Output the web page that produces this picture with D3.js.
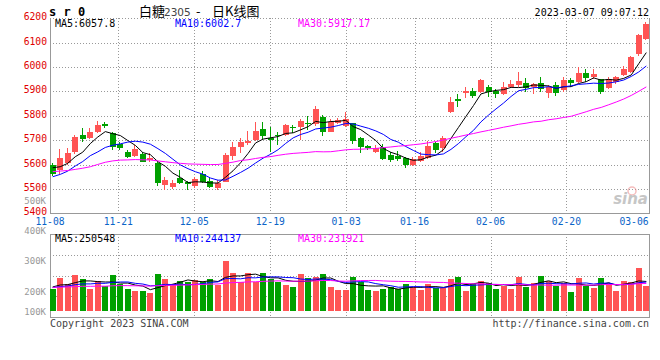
<!DOCTYPE html>
<html><head><meta charset="utf-8">
<script src="https://cdn.jsdelivr.net/npm/d3@7"></script>
<style>body{margin:0;background:#fff} svg{display:block}</style>
</head><body><svg id="c" width="660" height="360"></svg>
<script>
// ---------------- DATA ----------------
const dates = ["11-08","11-09","11-10","11-11","11-14","11-15","11-16","11-17","11-18",
"11-21","11-22","11-23","11-24","11-25","11-28","11-29","11-30","12-01","12-02",
"12-05","12-06","12-07","12-08","12-09","12-12","12-13","12-14","12-15","12-16",
"12-19","12-20","12-21","12-22","12-23","12-26","12-27","12-28","12-29","12-30",
"01-03","01-04","01-05","01-06","01-09","01-10","01-11","01-12","01-13",
"01-16","01-17","01-18","01-19","01-20","01-30","01-31","02-01","02-02","02-03",
"02-06","02-07","02-08","02-09","02-10","02-13","02-14","02-15","02-16","02-17",
"02-20","02-21","02-22","02-23","02-24","02-27","02-28","03-01","03-02","03-03",
"03-06","03-07"];
const open  = [5598,5578,5605,5650,5721,5710,5735,5766,5728,5683,5653,5636,5642,5619,5608,5516,5509,5546,5527,5513,
5561,5533,5503,5530,5635,5671,5687,5701,5746,5708,5721,5721,5755,5753,5770,5766,5796,5735,5772,5758,
5770,5710,5677,5653,5673,5639,5636,5626,5598,5615,5626,5687,5669,5817,5869,5892,5902,5899,5919,5902,
5889,5919,5926,5933,5917,5933,5895,5926,5906,5947,5940,5974,5960,5950,5913,5940,5967,5981,6054,6116];
const high  = [5608,5662,5668,5720,5752,5750,5779,5776,5735,5694,5660,5680,5650,5646,5614,5550,5537,5578,5532,5550,
5575,5550,5537,5646,5694,5708,5739,5776,5776,5755,5732,5766,5762,5786,5800,5841,5803,5786,5790,5814,
5772,5714,5681,5680,5683,5653,5656,5632,5632,5653,5697,5694,5717,5878,5888,5920,5913,5950,5926,5909,
5940,5947,5981,5957,5933,5958,5926,5937,5960,5954,5999,5991,5990,5952,5960,5963,6004,6045,6136,6185];
const low   = [5555,5560,5600,5645,5694,5705,5728,5749,5660,5660,5626,5632,5610,5612,5513,5496,5498,5520,5496,5505,
5523,5503,5496,5527,5619,5646,5680,5697,5704,5653,5680,5717,5728,5701,5742,5760,5717,5732,5766,5755,
5684,5646,5660,5646,5619,5609,5616,5587,5594,5612,5624,5646,5653,5810,5837,5872,5874,5895,5878,5872,
5885,5913,5919,5899,5888,5899,5874,5881,5899,5919,5936,5940,5950,5889,5909,5930,5963,5977,6045,6110];
const close = [5560,5626,5649,5714,5705,5735,5762,5760,5671,5667,5632,5663,5612,5628,5523,5537,5524,5526,5519,5541,
5530,5507,5523,5639,5673,5694,5698,5739,5718,5700,5719,5762,5752,5779,5766,5827,5735,5776,5783,5786,
5698,5673,5667,5669,5623,5619,5623,5598,5623,5636,5676,5660,5708,5855,5862,5902,5883,5947,5899,5890,
5917,5930,5943,5913,5930,5909,5917,5892,5947,5933,5974,5954,5970,5899,5950,5958,5991,6040,6131,6177];
const volume = [185900,281700,228200,304200,270400,185900,253500,211300,304200,225300,
185900,169000,169000,152100,312700,270400,228200,253500,247900,262000,
245100,270400,219700,425100,321100,245100,321100,245100,321100,270400,
242200,219700,202800,312700,278900,287300,312700,202800,177500,177500,
287300,242200,177500,169000,185900,202800,185900,228200,202800,177500,
228200,194400,194400,270400,287300,169000,228200,253500,236600,185900,
211300,185900,287300,202800,236600,295800,253500,208400,236600,160600,
278900,208400,194400,278900,236600,169000,253500,245100,366200,214100];
// sessions before 11-08 (only feed the moving averages)
const preClose = [5560,5575,5580,5560,5554,5480,5490,5503,5570,5609,5620,5640,5643,5650,5640,
5630,5610,5590,5570,5556,5530,5515,5505,5520,5495,5606,5579,5579,5611];
const preVolume = [205000,190000,215000,198000,186000,210000,222000,195000,183000,200000,
208000,192000,215000,188000,196000,205000,212000,190000,185000,203000,
198000,180000,192000,205000,188000,200000,214000,220000,198000];
const priceTicks = [6200,6100,6000,5900,5800,5700,5600,5500,5400];
const volTickLabels = [500000,400000,300000,200000,100000];
const axisDates = ["11-08","11-21","12-05","12-19","01-03","01-16","02-06","02-20","03-06"];
const maPeriods = [5,10,30];
const maLegend = ["6057.8","6002.7","5917.17"];
const volMaLegend = ["250548","244137","231921"];
const titleParts = ["白糖","2305"," - ","日K线图"];
const symbol = "s r 0";
const timestamp = "2023-03-07 09:07:12";

// ---------------- CHART ----------------
const svg = d3.select("#c");
const RED = "#ff5454", GREEN = "#00a000", GRID = "#999", BORDER = "#999";
const maColors = ["#000000","#0000ff","#ff00ff"];
const MONO = "'DejaVu Sans Mono', monospace";
const FS = "9.7px ";
const n = dates.length;

const xG = d3.scaleLinear().domain([0, n-1]).range([50, 650]);       // date grid / labels
const xC = d3.scaleLinear().domain([0, n-1]).range([52.7, 646.3]);   // candle centres
const yP = d3.scaleLinear().domain([5400, 6200]).range([213.3, 18.3]);
const yV = d3.scaleLinear().domain([0, 845000]).range([311, 211]);
const yVLab = d3.scaleLinear().domain([200000, 500000]).range([294, 203.3]);
const px = v => Math.round(v) + 0.5;

function movingAvg(arr, pre, p) {
  const all = pre.concat(arr);
  return arr.map((_, i) => d3.mean(all.slice(i + pre.length - p + 1, i + pre.length + 1)));
}

const gGrid = svg.append("g");
gGrid.selectAll(".hg").data(priceTicks.filter(t => t > 5400)).join("line")
  .attr("x1", 50).attr("x2", 650)
  .attr("y1", d => px(yP(d))).attr("y2", d => px(yP(d)))
  .attr("stroke", GRID).attr("stroke-dasharray", "1,2");
const volTop = 234, volBot = 317;
const volGrid = d3.range(1, 4).map(k => volTop + k * (volBot - volTop) / 4);
gGrid.selectAll(".vg").data(volGrid).join("line")
  .attr("x1", 50).attr("x2", 650)
  .attr("y1", d => px(d)).attr("y2", d => px(d))
  .attr("stroke", GRID).attr("stroke-dasharray", "1,2");
const gridIdx = axisDates.map(d => dates.indexOf(d)).filter(i => xG(i) < 640 && i > 0);
[[18, 213], [volTop, volBot]].forEach(([a, b]) => {
  gGrid.append("g").selectAll("line").data(gridIdx).join("line")
    .attr("x1", i => px(xG(i))).attr("x2", i => px(xG(i)))
    .attr("y1", a).attr("y2", b)
    .attr("stroke", GRID).attr("stroke-dasharray", "1,2");
});
const gB = svg.append("g").attr("stroke", BORDER).attr("fill", "none");
gB.append("line").attr("x1", 50.5).attr("x2", 50.5).attr("y1", 18).attr("y2", 214);
gB.append("line").attr("x1", 649.5).attr("x2", 649.5).attr("y1", 18).attr("y2", 214);
gB.append("line").attr("x1", 50).attr("x2", 650).attr("y1", px(yP(5400))).attr("y2", px(yP(5400)));
gB.append("rect").attr("x", 50.5).attr("y", volTop + 0.5).attr("width", 599).attr("height", volBot - volTop);

// price axis labels
svg.append("g").selectAll("text").data(priceTicks).join("text")
  .attr("x", 47).attr("y", d => yP(d) + 2)
  .attr("text-anchor", "end").attr("fill", "#e00000")
  .style("font", FS + MONO).text(d => d);
// volume axis labels (grey)
svg.append("g").selectAll("text").data(volTickLabels).join("text")
  .attr("x", 46).attr("y", d => Math.min(yVLab(d), 314.3) + 0.5)
  .attr("text-anchor", "end").attr("fill", "#999")
  .style("font", "9px " + MONO).text(d => (d / 1000) + "K");
// date labels
svg.append("g").selectAll("text").data(axisDates).join("text")
  .attr("x", d => Math.min(xG(dates.indexOf(d)), 649 - 15))
  .attr("y", 224.5).attr("text-anchor", "middle").attr("fill", "#0a64c8")
  .style("font", FS + MONO).text(d => d);

// candles
const gC = svg.append("g").attr("shape-rendering", "crispEdges");
const idx = d3.range(n);
const col = i => close[i] >= open[i] ? RED : GREEN;
const x0 = i => Math.round(xC(i) - 3);
gC.selectAll(".wick").data(idx).join("rect")
  .attr("x", i => x0(i) + 2).attr("width", 1)
  .attr("y", i => Math.round(yP(high[i]))).attr("height", i => Math.max(1, Math.round(yP(low[i])) - Math.round(yP(high[i]))))
  .attr("fill", col);
gC.selectAll(".body").data(idx).join("rect")
  .attr("x", x0).attr("width", 6)
  .attr("y", i => Math.round(yP(Math.max(open[i], close[i]))))
  .attr("height", i => Math.max(1, Math.round(yP(Math.min(open[i], close[i]))) - Math.round(yP(Math.max(open[i], close[i])))))
  .attr("fill", col);

// volume bars
gC.selectAll(".vol").data(idx).join("rect")
  .attr("x", x0).attr("width", 6)
  .attr("y", i => Math.round(yV(volume[i])))
  .attr("height", i => 311 - Math.round(yV(volume[i])))
  .attr("fill", col);

// moving averages
const lineP = d3.line().x((d, i) => xC(i)).y(d => yP(d));
const lineV = d3.line().x((d, i) => xC(i)).y(d => yV(d));
maPeriods.forEach((p, k) => {
  svg.append("path").datum(movingAvg(close, preClose, p))
    .attr("d", lineP).attr("fill", "none").attr("stroke", maColors[k]).attr("stroke-width", 1);
  svg.append("path").datum(movingAvg(volume, preVolume, p))
    .attr("d", lineV).attr("fill", "none").attr("stroke", maColors[k]).attr("stroke-width", 1);
});

// legends
const legX = [55, 175, 298];
maPeriods.forEach((p, k) => {
  svg.append("text").attr("x", legX[k]).attr("y", 27.3).attr("fill", maColors[k])
    .style("font", "10px " + MONO).text("MA" + p + ":" + maLegend[k]);
  svg.append("text").attr("x", legX[k]).attr("y", 242.3).attr("fill", maColors[k])
    .style("font", "10px " + MONO).text("MA" + p + ":" + volMaLegend[k]);
});

// header
svg.append("text").attr("x", 49).attr("y", 15.5).attr("fill", "#000")
  .style("font", "bold 12px " + MONO).text(symbol);
const tt = svg.append("text").attr("y", 16).attr("fill", "#000");
tt.append("tspan").attr("x", 139).style("font", "13px 'Noto Sans CJK SC'").text(titleParts[0]);
tt.append("tspan").attr("x", 164).attr("fill", "#444").style("font", "10.5px 'DejaVu Sans'").text(titleParts[1]);
tt.append("tspan").attr("x", 193).style("font", "13px 'Noto Sans CJK SC'").attr("xml:space","preserve").text(titleParts[2]);
tt.append("tspan").attr("x", 212).style("font", "13px 'Noto Sans CJK SC'").text(titleParts[3]);
svg.append("text").attr("x", 649).attr("y", 16).attr("text-anchor", "end").attr("fill", "#000")
  .style("font", "10px " + MONO).text(timestamp);

// footer
svg.append("text").attr("x", 50).attr("y", 327).attr("fill", "#444")
  .style("font", "10px " + MONO).text("Copyright 2023 SINA.COM");
svg.append("text").attr("x", 649).attr("y", 327).attr("text-anchor", "end").attr("fill", "#444")
  .style("font", "10px " + MONO).text("http://finance.sina.com.cn");

// watermark
const wm = svg.append("g").attr("opacity", 0.55);
wm.append("circle").attr("cx", 632).attr("cy", 191).attr("r", 4).attr("fill", "none").attr("stroke", "#e88").attr("stroke-width", 1.5);
wm.append("text").attr("x", 648).attr("y", 204).attr("text-anchor", "end").attr("fill", "#999")
  .style("font", "italic bold 15px 'DejaVu Sans'").text("sina");
</script></body></html>
